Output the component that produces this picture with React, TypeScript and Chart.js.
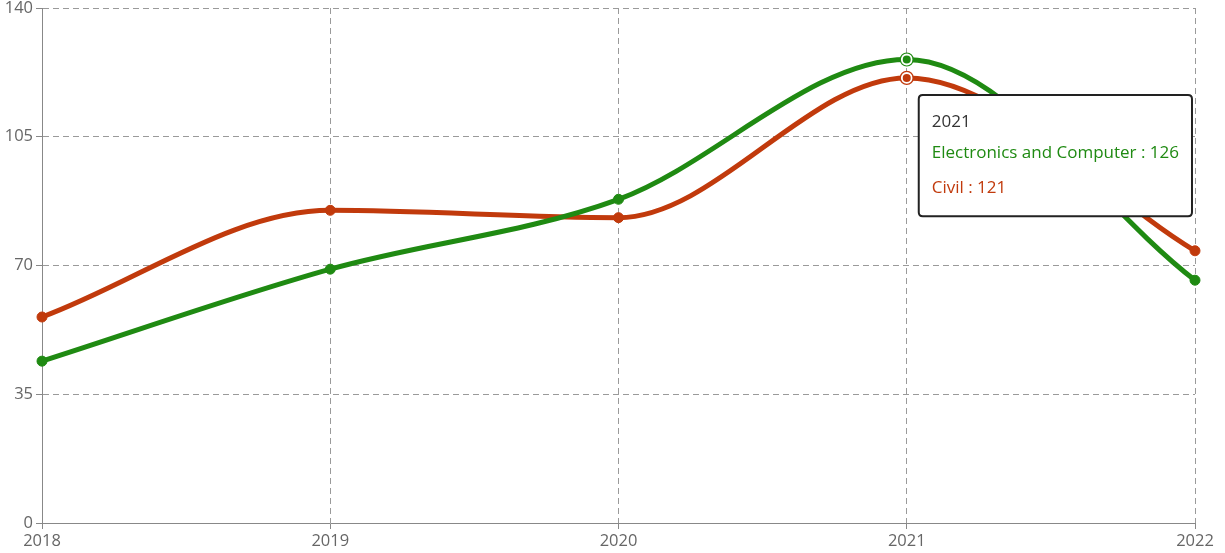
import React, { useEffect, useRef } from "react";
import { Chart, registerables } from "chart.js";

Chart.register(...registerables);

const years = ["2018", "2019", "2020", "2021", "2022"];
const electronicsComputer = [44, 69, 88, 126, 66];
const civil = [56, 85, 83, 121, 74];
const seriesNames = ["Electronics and Computer", "Civil"];
const seriesColors = ["#1f8a12", "#c13a0c"];
const yTicks = [0, 35, 70, 105, 140];
const activeIndex = 3;

const FONT = '"Segoe UI", "Open Sans", sans-serif';

const ringPlugin = {
  id: "hoverRing",
  afterDatasetsDraw(chart: any) {
    const ctx = chart.ctx;
    chart.getActiveElements().forEach((a: any) => {
      const el = a.element;
      ctx.save();
      ctx.beginPath();
      ctx.arc(el.x, el.y, 6.5, 0, Math.PI * 2);
      ctx.lineWidth = 1.2;
      ctx.strokeStyle = seriesColors[a.datasetIndex];
      ctx.stroke();
      ctx.restore();
    });
  },
};

(function setupPositioner() {
  const T: any = (Chart as any).registry.plugins.get("tooltip");
  if (T && T.positioners) {
    T.positioners.fixedRight = function (elements: any[]) {
      if (!elements.length) return false;
      const el = elements[0].element;
      return { x: el.x + 16, y: 95 };
    };
  }
})();

export default function App() {
  const ref = useRef<HTMLCanvasElement>(null);
  useEffect(() => {
    document.body.style.margin = "0";
    const data = [electronicsComputer, civil];
    const chart = new Chart(ref.current!, {
      type: "line",
      data: {
        labels: years,
        datasets: data.map((d, i) => ({
          label: seriesNames[i],
          data: d,
          borderColor: seriesColors[i],
          backgroundColor: seriesColors[i],
          borderWidth: 5,
          cubicInterpolationMode: "monotone" as const,
          pointRadius: 5,
          pointBorderWidth: 1,
          pointBorderColor: seriesColors[i],
          pointBackgroundColor: seriesColors[i],
          pointHoverRadius: 5,
          pointHoverBorderWidth: 2,
          pointHoverBorderColor: "#ffffff",
          pointHoverBackgroundColor: seriesColors[i],
          fill: false,
        })),
      },
      options: {
        animation: false,
        responsive: false,
        events: [],
        layout: { padding: { top: 8, right: 30, left: 0, bottom: 0 } },
        interaction: { mode: "index", intersect: false },
        scales: {
          x: {
            type: "category",
            offset: false,
            grid: {
              color: "#9a9a9a",
              lineWidth: 1,
              tickLength: 6,
              tickColor: "#888",
              tickBorderDash: [],
            },
            border: { color: "#888", dash: [6, 4], width: 1 },
            ticks: {
              color: "#666",
              font: { family: FONT, size: 16.5, lineHeight: 1.2 },
              padding: 2,
              maxRotation: 0,
            },
            afterFit(scale: any) {
              scale.height = 30;
            },
          },
          y: {
            min: 0,
            max: 140,
            afterBuildTicks(scale: any) {
              scale.ticks = yTicks.map((v) => ({ value: v }));
            },
            grid: {
              color: "#9a9a9a",
              lineWidth: 1,
              tickLength: 6,
              tickColor: "#888",
              tickBorderDash: [],
            },
            border: { color: "#888", dash: [6, 4], width: 1 },
            ticks: {
              color: "#666",
              font: { family: FONT, size: 16.5, lineHeight: 0.5 },
              padding: 3,
            },
            afterFit(scale: any) {
              scale.width = 42;
            },
          },
        },
        plugins: {
          legend: { display: false },
          title: { display: false },
          tooltip: {
            enabled: true,
            position: "fixedRight" as any,
            xAlign: "left",
            yAlign: "top",
            caretSize: 0,
            caretPadding: 0,
            cornerRadius: 4,
            backgroundColor: "#ffffff",
            borderColor: "#222222",
            borderWidth: 2,
            displayColors: false,
            titleColor: "#333333",
            titleFont: { family: FONT, size: 17, weight: "normal", lineHeight: 1.2 },
            bodyFont: { family: FONT, size: 17, lineHeight: 1.2 },
            titleMarginBottom: 11,
            bodySpacing: 14,
            padding: { top: 17, bottom: 18, left: 13, right: 13 },
            callbacks: {
              label: (ctx: any) => `${ctx.dataset.label} : ${ctx.parsed.y}`,
              labelTextColor: (ctx: any) => seriesColors[ctx.datasetIndex],
            },
          },
        },
      },
      plugins: [ringPlugin],
    });
    const els = [
      { datasetIndex: 0, index: activeIndex },
      { datasetIndex: 1, index: activeIndex },
    ];
    chart.setActiveElements(els);
    const meta = chart.getDatasetMeta(0).data[activeIndex] as any;
    chart.tooltip!.setActiveElements(els, { x: meta.x, y: meta.y });
    chart.update("none");
    return () => chart.destroy();
  }, []);
  return (
    <div style={{ width: 1225, height: 553 }}>
      <canvas ref={ref} width={1225} height={553} style={{ display: "block" }} />
    </div>
  );
}
